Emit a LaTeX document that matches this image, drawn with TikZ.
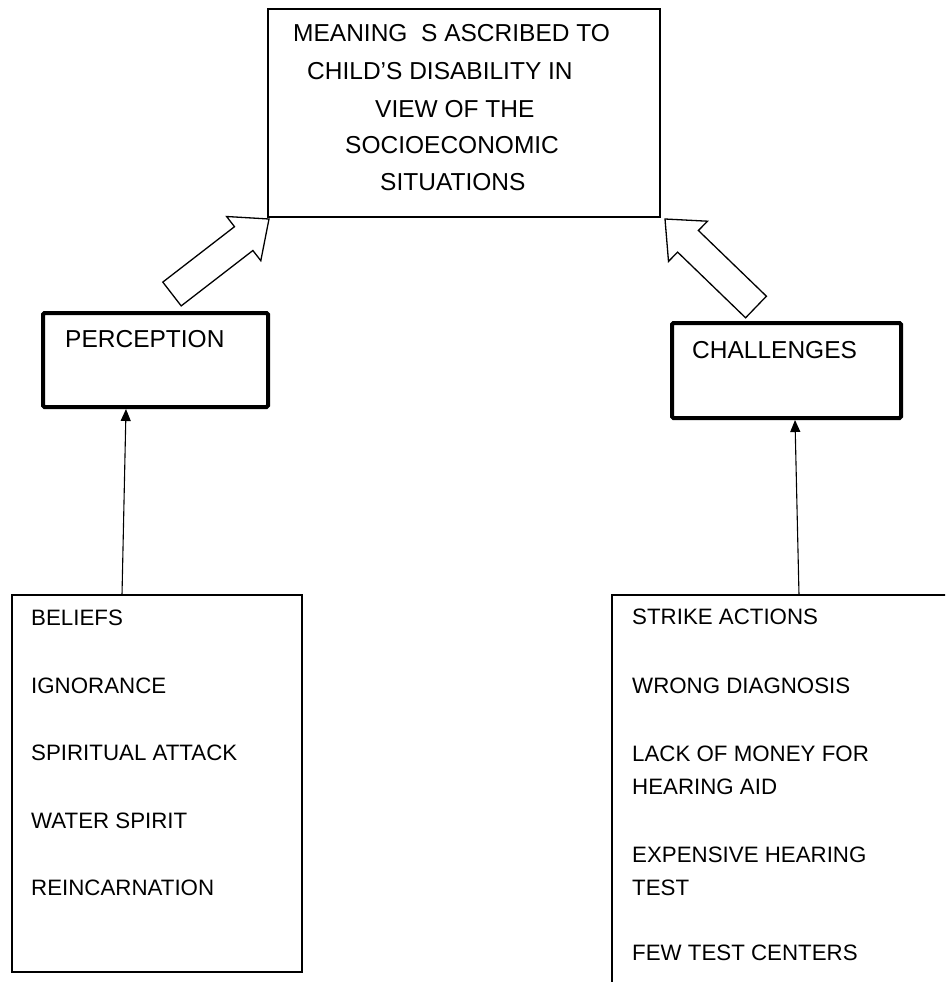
\documentclass[tikz,border=0pt]{standalone}
\usepackage{fontspec}
\setmainfont{Liberation Sans}
\usetikzlibrary{arrows.meta}
\tikzset{
  thinbox/.style={draw, line width=1.3pt, inner sep=0pt},
  thickbox/.style={draw, line width=4pt, rounded corners=1.5pt, inner sep=0pt},
  txt/.style={anchor=base west, inner sep=0pt, font=\fontsize{24.5}{29}\selectfont},
  itemtxt/.style={anchor=base west, inner sep=0pt, font=\fontsize{22.3}{27}\selectfont},
  hollow/.style={draw=black, fill=white, line width=1.3pt, line join=miter},
  conn/.style={line width=1.1pt, -{Triangle[width=10pt,length=12pt]}}
}
\begin{document}
\begin{tikzpicture}[x=1pt,y=-1pt]
\useasboundingbox (0,0) rectangle (945,982);
\clip (0,0) rectangle (945,982);
\fill[white] (0,0) rectangle (945,982);

% top box
\node[thinbox, minimum width=392pt, minimum height=208pt] (meaning) at (464,113) {};
\node[txt] (m1) at (293,42) {MEANING\ \ S ASCRIBED TO};
\node[txt] (m2) at (307,80) {CHILD’S DISABILITY IN};
\node[txt] (m3) at (375,117) {VIEW OF THE};
\node[txt] (m4) at (345,153) {SOCIOECONOMIC};
\node[txt] (m5) at (380,190) {SITUATIONS};

% hollow arrows
\draw[hollow] (181.2,305.9) -- (252.9,250.5) -- (260.8,260.7) -- (269,219)
  -- (226.6,216.5) -- (234.5,226.7) -- (162.8,282.1) -- cycle;
\draw[hollow] (766.4,296.2) -- (698.4,230.5) -- (707.5,221.2) -- (665,219)
  -- (668.5,261.4) -- (677.6,252.1) -- (745.6,317.8) -- cycle;

% middle boxes
\node[thickbox, minimum width=225pt, minimum height=94pt] (perception) at (155.5,360) {};
\node[txt] (ptxt) at (65,347) {PERCEPTION};
\node[thickbox, minimum width=229pt, minimum height=95pt] (challenges) at (786.5,370.5) {};
\node[txt] (ctxt) at (692,358) {CHALLENGES};

% bottom boxes
\node[thinbox, minimum width=290pt, minimum height=377pt] (lbox) at (157,783.5) {};
\node[thinbox, minimum width=360pt, minimum height=420pt] (rbox) at (792,805) {};

\node[itemtxt] at (31,625) {BELIEFS};
\node[itemtxt] at (31,693) {IGNORANCE};
\node[itemtxt] at (31,760) {SPIRITUAL ATTACK};
\node[itemtxt] at (31,828) {WATER SPIRIT};
\node[itemtxt] at (31,895) {REINCARNATION};

\node[itemtxt] at (632,624) {STRIKE ACTIONS};
\node[itemtxt] at (632,693) {WRONG DIAGNOSIS};
\node[itemtxt] at (632,761) {LACK OF MONEY FOR};
\node[itemtxt] at (632,794) {HEARING AID};
\node[itemtxt] at (632,862) {EXPENSIVE HEARING};
\node[itemtxt] at (632,895) {TEST};
\node[itemtxt] at (632,960) {FEW TEST CENTERS};

% connectors
\coordinate (la) at (122,595);
\coordinate (lb) at (126,409);
\coordinate (ra) at (799,595);
\coordinate (rb) at (795,420);
\draw[conn] (la) -- (lb);
\draw[conn] (ra) -- (rb);
\end{tikzpicture}
\end{document}
